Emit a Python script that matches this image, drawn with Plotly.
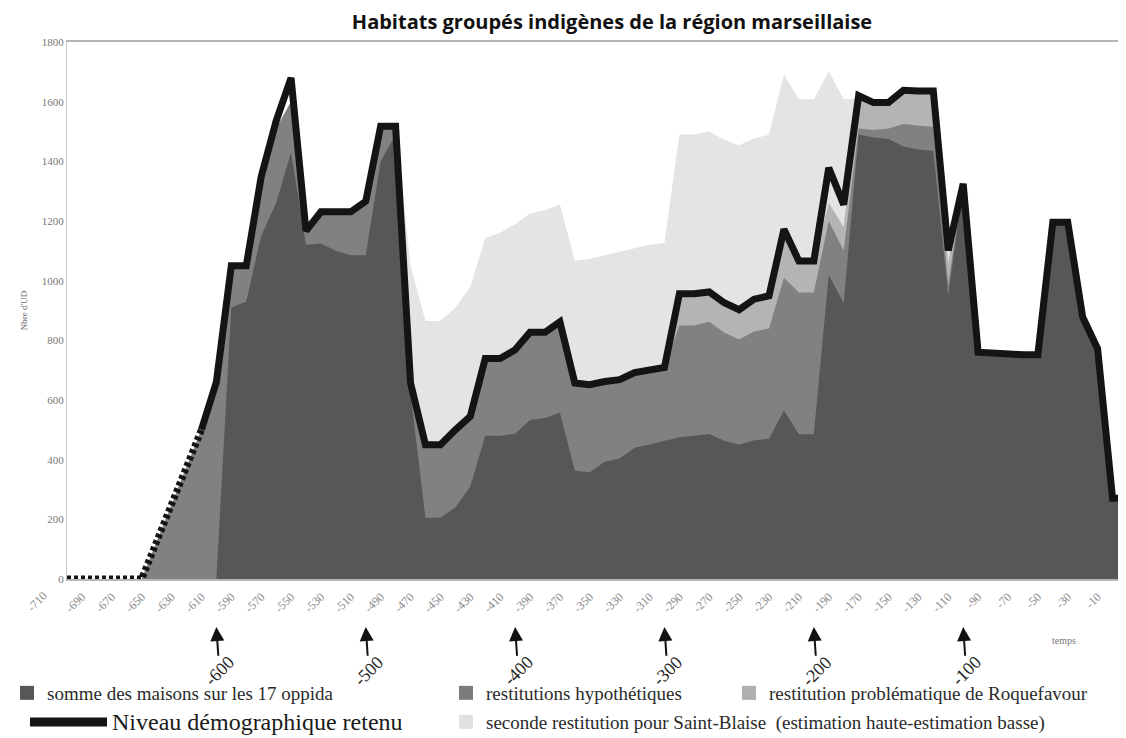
import plotly.graph_objects as go

# -----------------------------------------------------------------------------
# Données (niveaux, en nombre d'UD)

annees = list(range(-700, 20, 10))

maisons = [0, 0, 0, 0, 0, 0, 0, 0, 0, 0, 0,
           910, 930, 1150, 1260, 1430, 1120, 1125, 1100, 1085, 1085, 1400, 1490,
           620, 205, 205, 240, 310, 480, 480, 487, 533, 540, 557, 363, 358, 393, 404, 440, 451, 463,
           475, 480, 486, 463, 450, 465, 470, 565, 485, 485,
           1019, 925, 1490, 1480, 1475, 1450, 1440, 1435, 950, 1320,
           760, 757, 752, 752, 752, 1196, 1196, 878, 772, 271, 271]

hypothetiques = [0, 0, 0, 0, 0, 0, 125, 250, 375, 500, 660,
                 1050, 1050, 1330, 1510, 1600, 1160, 1225, 1225, 1225, 1260, 1510, 1515,
                 650, 450, 450, 500, 545, 739, 739, 768, 827, 827, 862, 657, 651, 662, 668, 692, 698, 709,
                 850, 850, 862, 826, 803, 830, 840, 1010, 960, 960,
                 1200, 1100, 1510, 1505, 1510, 1525, 1520, 1515, 990, 1320,
                 760, 757, 752, 752, 752, 1196, 1196, 878, 772, 271, 271]

roquefavour = [0, 0, 0, 0, 0, 0, 125, 250, 375, 500, 660,
               1050, 1050, 1330, 1510, 1600, 1160, 1225, 1225, 1225, 1260, 1510, 1515,
               650, 450, 450, 500, 545, 739, 739, 768, 827, 827, 862, 657, 651, 662, 668, 692, 698, 709,
               950, 955, 960, 925, 903, 935, 945, 1170, 1066, 1066,
               1260, 1180, 1610, 1590, 1590, 1630, 1630, 1630, 1060, 1320,
               760, 757, 752, 752, 752, 1196, 1196, 878, 772, 271, 271]

saint_blaise = [0, 0, 0, 0, 0, 0, 125, 250, 375, 500, 660,
                1050, 1050, 1330, 1510, 1600, 1160, 1225, 1225, 1225, 1260, 1510, 1518,
                1050, 865, 865, 909, 979, 1143, 1161, 1190, 1225, 1237, 1255, 1067, 1073, 1085, 1096, 1108, 1120, 1126,
                1490, 1490, 1500, 1472, 1454, 1477, 1489, 1691, 1608, 1608,
                1702, 1608, 1610, 1590, 1590, 1630, 1630, 1630, 1100, 1320,
                760, 757, 752, 752, 752, 1196, 1196, 878, 772, 271, 271]

niveau = [0, 0, 0, 0, 0, 0, 125, 250, 375, 500, 660,
          1050, 1050, 1348, 1535, 1680, 1167, 1231, 1231, 1231, 1266, 1518, 1518,
          657, 450, 450, 500, 545, 739, 739, 768, 827, 827, 862, 657, 651, 662, 668, 692, 698, 709,
          956, 956, 962, 926, 903, 938, 949, 1172, 1066, 1066,
          1378, 1255, 1620, 1597, 1597, 1638, 1636, 1636, 1101, 1325,
          760, 757, 752, 752, 752, 1196, 1196, 878, 772, 271, 271]

debut_certain = -610  # avant : niveau en pointillés

etiquettes_x = list(range(-710, 0, 20))
siecles = [-600, -500, -400, -300, -200, -100]
graduations_y = list(range(0, 2000, 200))

# -----------------------------------------------------------------------------

SERIF = "Liberation Serif"
c_maisons = "#565759"
c_hypo = "#808183"
c_roque = "#b3b4b6"
c_blaise = "#e3e4e6"

# la page ajoute une marge de 8 px autour de la figure
OFF = 8
W, H = 1126 - OFF, 738 - OFF

# zone de tracé en pixels de la page (pour placer légende et notes)
L, R, T, B = 67, 1123, 42, 579
x_range = [-700, 7]


def px_x(px):
    return (px - L) / (R - L)


def px_y(py):
    return (B - py) / (B - T)


fig = go.Figure()

# aires superposées, de la plus haute à la plus basse
for vals, col in [(saint_blaise, c_blaise), (roquefavour, c_roque),
                  (hypothetiques, c_hypo), (maisons, c_maisons)]:
    fig.add_trace(go.Scatter(x=annees, y=vals, mode="lines", fill="tozeroy",
                             fillcolor=col, line=dict(width=0),
                             showlegend=False, hoverinfo="skip"))

# niveau démographique retenu
x_doute = [a for a in annees if a <= debut_certain]
y_doute = [v for a, v in zip(annees, niveau) if a <= debut_certain]
x_sur = [a for a in annees if a >= debut_certain]
y_sur = [v for a, v in zip(annees, niveau) if a >= debut_certain]

fig.add_trace(go.Scatter(x=x_doute, y=y_doute, mode="lines",
                         line=dict(color="#141414", width=7, dash="4px,3px"),
                         showlegend=False, hoverinfo="skip", cliponaxis=False))
fig.add_trace(go.Scatter(x=x_sur, y=y_sur, mode="lines",
                         line=dict(color="#141414", width=7),
                         showlegend=False, hoverinfo="skip"))

# entrées de légende (carrés)
legendes = [
    ("somme des maisons sur les 17 oppida", c_maisons, "legend"),
    ("restitutions hypothétiques", "#7b7c7e", "legend2"),
    ("restitution problématique de Roquefavour", "#aeafb1", "legend3"),
    ("seconde restitution pour Saint-Blaise  (estimation haute-estimation basse)", "#e0e1e3", "legend4"),
]
for nom, col, leg in legendes:
    fig.add_trace(go.Scatter(x=[None], y=[None], mode="markers", name=nom,
                             marker=dict(symbol="square", size=14, color=col),
                             legend=leg))

leg_style = dict(font=dict(family=SERIF, size=19, color="#2a2a2a"),
                 bgcolor="rgba(0,0,0,0)", xanchor="left", yanchor="middle",
                 itemwidth=30, tracegroupgap=0)

annotations = []

# flèches des siècles
for s in siecles:
    annotations.append(dict(x=s, y=px_y(627), xref="x", yref="paper", text=str(s),
                            showarrow=True, arrowhead=2, arrowsize=1.4, arrowwidth=2,
                            arrowcolor="#111", ax=3, ay=44, textangle=-45,
                            font=dict(family=SERIF, size=18, color="#222")))

# première étiquette, hors de la plage tracée
annotations.append(dict(x=px_x(L) + (etiquettes_x[0] - x_range[0]) / (x_range[1] - x_range[0]),
                        y=px_y(586), xref="paper", yref="paper", text=str(etiquettes_x[0]),
                        showarrow=False, textangle=-45, xanchor="right", yanchor="top",
                        font=dict(family=SERIF, size=12, color="#8a8a8a")))

annotations.append(dict(x=px_x(1078), y=px_y(648), xref="paper", yref="paper", text="temps",
                        showarrow=False, font=dict(family=SERIF, size=10, color="#777")))

annotations.append(dict(x=px_x(110), y=px_y(722), xref="paper", yref="paper",
                        text="Niveau démographique retenu", showarrow=False,
                        xanchor="left", yanchor="middle",
                        font=dict(family=SERIF, size=24, color="#1a1a1a")))

shapes = [dict(type="line", xref="paper", yref="paper", x0=px_x(30), x1=px_x(107),
               y0=px_y(722), y1=px_y(722), line=dict(color="#141414", width=9))]

fig.update_layout(
    width=W, height=H,
    margin=dict(l=L - OFF, r=W + OFF - R, t=T - OFF, b=H + OFF - B, autoexpand=False),
    paper_bgcolor="white", plot_bgcolor="white",
    title=dict(text="<b>Habitats groupés indigènes de la région marseillaise</b>",
               x=(612 - OFF) / W, xanchor="center", y=1 - (22 - OFF) / H, yanchor="middle",
               font=dict(family="Open Sans", size=20, color="#111")),
    xaxis=dict(range=x_range, tickvals=etiquettes_x[1:],
               ticktext=[str(v) for v in etiquettes_x[1:]],
               tickangle=-45, showgrid=False, zeroline=False, ticklabelstandoff=4,
               showline=True, linecolor="#b5b5b5", linewidth=2, mirror=True,
               tickfont=dict(family=SERIF, size=12, color="#8a8a8a")),
    yaxis=dict(range=[0, 1800], tickvals=graduations_y, showgrid=False, zeroline=False,
               showline=True, linecolor="#c8c8c8", linewidth=1, mirror=True,
               tickfont=dict(family=SERIF, size=11, color="#777"),
               title=dict(text="Nbre d'UD", font=dict(family=SERIF, size=9, color="#666"),
                          standoff=12)),
    legend=dict(x=px_x(7), y=px_y(693), **leg_style),
    legend2=dict(x=px_x(446), y=px_y(693), **leg_style),
    legend3=dict(x=px_x(729), y=px_y(693), **leg_style),
    legend4=dict(x=px_x(446), y=px_y(722), **leg_style),
    annotations=annotations,
    shapes=shapes,
)

fig.write_html("out.html")
